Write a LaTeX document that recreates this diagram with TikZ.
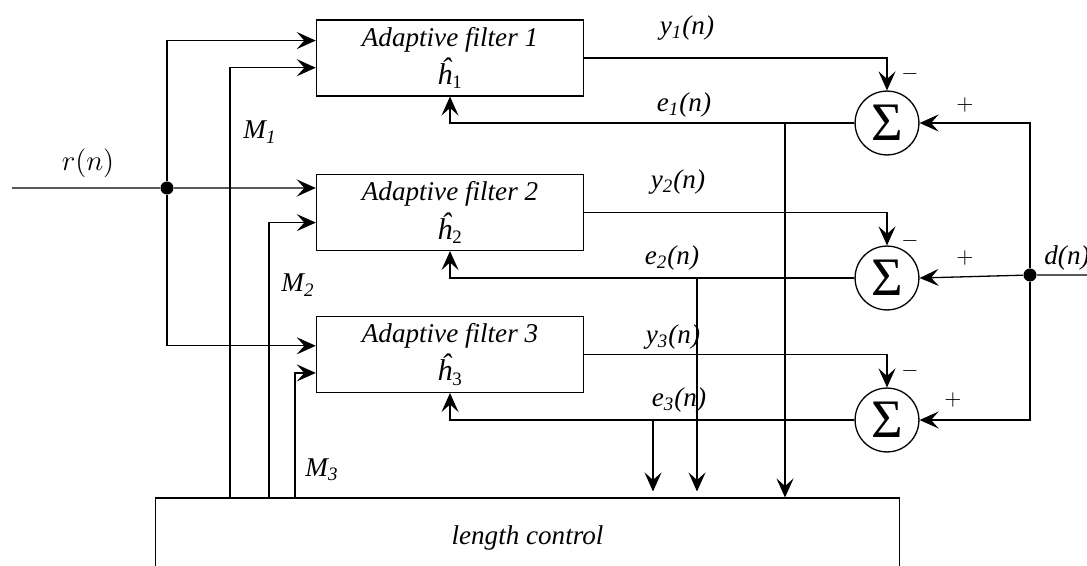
\documentclass[tikz,border=0pt]{standalone}
\usepackage{fontspec}
\setmainfont{Liberation Serif}
\usetikzlibrary{arrows.meta}

\tikzset{
  filt/.style={draw, minimum width=133pt, minimum height=37.7pt, align=center, inner sep=0pt},
  summer/.style={draw, circle, minimum size=31.8pt, inner sep=0pt, font=\fontsize{27}{27}\selectfont\upshape},
  dotnode/.style={fill, circle, minimum size=6.5pt, inner sep=0pt},
  sgn/.style={font=\fontsize{11}{11}\selectfont\upshape},
}

\begin{document}
\begin{tikzpicture}[scale=0.7, >={Stealth[length=9.5pt,width=8.5pt,inset=3.8pt]}, line width=0.65pt, font=\fontsize{13.5}{16}\selectfont\itshape]
  \useasboundingbox (0,0) rectangle (27.175,-14.15);

  \draw (11.25,-1.45) node[filt] (f1) {Adaptive filter 1\\[2pt]{\fontsize{15}{16}\selectfont ĥ}\textsubscript{\upshape 1}};
  \draw (11.25,-5.3125) node[filt] (f2) {Adaptive filter 2\\[2pt]{\fontsize{15}{16}\selectfont ĥ}\textsubscript{\upshape 2}};
  \draw (11.25,-8.8625) node[filt] (f3) {Adaptive filter 3\\[2pt]{\fontsize{15}{16}\selectfont ĥ}\textsubscript{\upshape 3}};
  \draw (13.1875,-13.45) node[draw, minimum width=370.6pt, minimum height=39.7pt] (lc) {length control};

  \draw (22.175,-3.075) node[summer] (s1) {Σ};
  \draw (22.175,-6.95) node[summer] (s2) {Σ};
  \draw (22.175,-10.5) node[summer] (s3) {Σ};

  \draw (4.175,-4.7) node[dotnode] (rdot) {};
  \draw (25.75,-6.875) node[dotnode] (ddot) {};
  \coordinate (rin) at (0.3,-4.7);
  \coordinate (din) at (27.3,-6.875);
  \coordinate (m1) at (5.75,-12.45);
  \coordinate (m2) at (6.725,-12.45);
  \coordinate (m3) at (7.375,-12.45);
  \coordinate (t1) at (19.625,-3.075);
  \coordinate (t2) at (17.425,-6.95);
  \coordinate (t3) at (16.325,-10.5);

  \draw (2.2,-4.075) node (rlab) {$r(n)$};
  \draw (26.675,-6.45) node (dlab) {d(n)};
  \draw (6.5,-3.3) node (m1lab) {M\textsubscript{1}};
  \draw (7.45,-7.125) node (m2lab) {M\textsubscript{2}};
  \draw (8.05,-11.75) node (m3lab) {M\textsubscript{3}};
  \draw (17.175,-0.7) node (y1lab) {y\textsubscript{1}(n)};
  \draw (17.1,-2.625) node (e1lab) {e\textsubscript{1}(n)};
  \draw (16.95,-4.55) node (y2lab) {y\textsubscript{2}(n)};
  \draw (16.8,-6.45) node (e2lab) {e\textsubscript{2}(n)};
  \draw (16.825,-8.425) node (y3lab) {y\textsubscript{3}(n)};
  \draw (16.975,-10.0) node (e3lab) {e\textsubscript{3}(n)};
  \draw (22.75,-1.85) node[sgn] (n1) {$-$};
  \draw (22.75,-6.025) node[sgn] (n2) {$-$};
  \draw (22.75,-9.275) node[sgn] (n3) {$-$};
  \draw (24.125,-2.625) node[sgn] (p1) {$+$};
  \draw (24.125,-6.45) node[sgn] (p2) {$+$};
  \draw (23.825,-10.0) node[sgn] (p3) {$+$};

  \draw (rin) -- (rdot);
  \draw[->] (rdot) |- ([yshift=12.4pt]f1.west);
  \draw[->] (rdot) -- (rdot -| f2.west);
  \draw[->] (rdot) |- ([yshift=6.2pt]f3.west);
  \draw[->] (m1) |- ([yshift=-6.9pt]f1.west);
  \draw[->] (m2) |- ([yshift=-7.2pt]f2.west);
  \draw[->] (m3) |- ([yshift=-13.1pt]f3.west);

  \draw[->] (f1.east) -| (s1.north);
  \draw[->] (f2.east) -| (s2.north);
  \draw[->] (f3.east) -| (s3.north);
  \draw (din) -- (ddot);
  \draw[->] (ddot) |- (s1.east);
  \draw[->] (ddot) -- (s2.east);
  \draw[->] (ddot) |- (s3.east);
  \draw[->] (s1.west) -| (f1.south);
  \draw[->] (s2.west) -| (f2.south);
  \draw[->] (s3.west) -| (f3.south);

  \draw[->] (t1) -- (t1 |- lc.north);
  \draw[->, shorten >=3pt] (t2) -- (t2 |- lc.north);
  \draw[->, shorten >=3pt] (t3) -- (t3 |- lc.north);
\end{tikzpicture}
\end{document}
